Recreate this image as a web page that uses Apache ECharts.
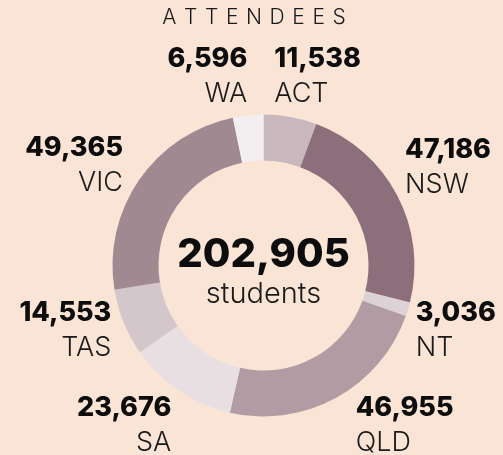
<!DOCTYPE html>
<html>
<head>
<meta charset="utf-8">
<script src="https://cdn.jsdelivr.net/npm/echarts@6/dist/echarts.min.js"></script>
<style>
  html, body { margin: 0; padding: 0; background: #f9e4d5; }
  #chart { width: 503px; height: 455px; }
</style>
</head>
<body>
<div id="chart"></div>
<script>
  // attendees per state, clockwise from 12 o'clock
  const states = ['ACT', 'NSW', 'NT', 'QLD', 'SA', 'TAS', 'VIC', 'WA'];
  const attendees = [11538, 47186, 3036, 46955, 23676, 14553, 49365, 6596];
  const sliceColors = ['#c8b8bd', '#8c6f7b', '#dcd1d5', '#b19ca4', '#e7dfe1', '#d4c7cc', '#a08991', '#f3eff0'];

  // where each label hangs off the ring (degrees clockwise from top)
  const labelAngles = [4, 66, 101, 143.5, 216.5, 259, 295, 354];

  const total = attendees.reduce((a, b) => a + b, 0);
  const fmt = n => n.toLocaleString('en-US');

  const cx = 263.5, cy = 265.5;
  const labelR = 155;
  const font = 'Inter';

  const chart = echarts.init(document.getElementById('chart'));

  chart.setOption({
    backgroundColor: '#f9e4d5',
    animation: false,
    graphic: [
      {
        type: 'text', x: 254, y: 18,
        style: {
          text: 'ATTENDEES'.split('').join('\u2009\u2009'),
          font: '300 21px ' + font, fill: '#1a1a1a',
          align: 'center', verticalAlign: 'middle'
        }
      },
      {
        type: 'text', x: cx, y: 255,
        style: {
          text: fmt(total), font: '800 40px ' + font, fill: '#0d0d0d',
          align: 'center', verticalAlign: 'middle'
        }
      },
      {
        type: 'text', x: cx, y: 294,
        style: {
          text: 'students', font: '300 29px ' + font, fill: '#1a1a1a',
          align: 'center', verticalAlign: 'middle'
        }
      }
    ],
    series: [{
      type: 'pie',
      center: [cx, cy],
      radius: [105, 151],
      startAngle: 90,
      silent: true,
      data: states.map((s, i) => ({ name: s, value: attendees[i], itemStyle: { color: sliceColors[i] } })),
      label: {
        show: true,
        position: 'outside',
        overflow: 'none',
        formatter: p => '{v|' + fmt(p.value) + '}\n{n|' + p.name + '}',
        rich: {
          v: { fontFamily: font, fontWeight: 800, fontSize: 27, lineHeight: 35, color: '#0d0d0d' },
          n: { fontFamily: font, fontWeight: 300, fontSize: 27, lineHeight: 35, color: '#1a1a1a' }
        }
      },
      labelLine: { show: false },
      labelLayout: params => {
        const a = labelAngles[params.dataIndex] * Math.PI / 180;
        const dx = Math.sin(a), dy = -Math.cos(a);
        return {
          x: cx + labelR * dx,
          y: cy + labelR * dy,
          align: dx >= 0 ? 'left' : 'right',
          verticalAlign: dy < 0 ? 'bottom' : 'top'
        };
      }
    }]
  });
</script>
</body>
</html>
